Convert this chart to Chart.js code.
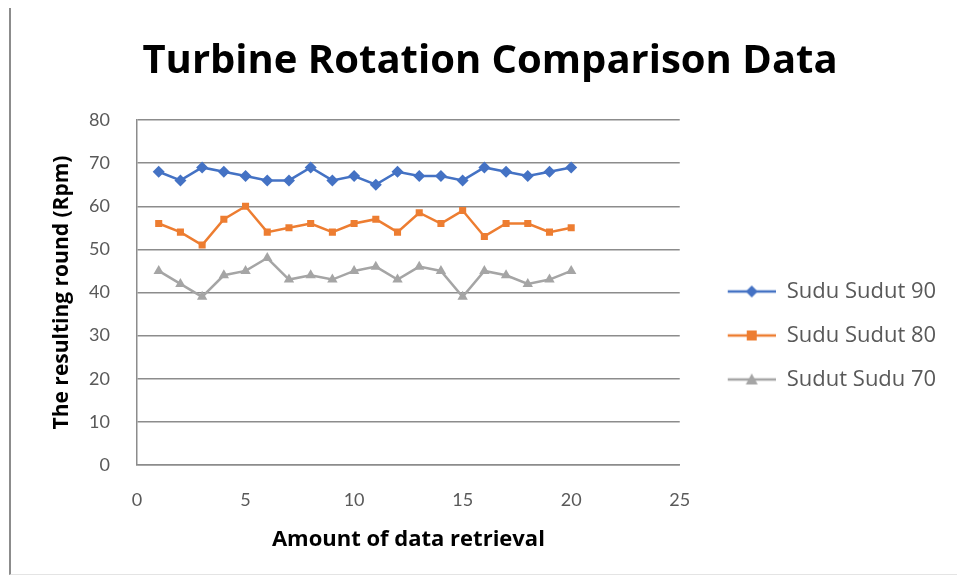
<!DOCTYPE html>
<html>
<head>
<meta charset="utf-8">
<script src="https://cdn.jsdelivr.net/npm/chart.js@4/dist/chart.umd.min.js"></script>
<style>
  html, body { margin: 0; padding: 0; background: #fff; }
  #wrap { position: relative; width: 957px; height: 578px; }
  #frame { position: absolute; left: 9px; top: 8px; width: 948px; height: 566px;
           border-left: 2px solid #8c8c8c; border-bottom: 1px solid #e4e4e4; }
  canvas { position: absolute; left: 0; top: 0; }
</style>
</head>
<body>
<div id="wrap">
  <div id="frame"></div>
  <canvas id="myChart" width="957" height="578"></canvas>
</div>
<script>
// data
const retrieval = [1, 2, 3, 4, 5, 6, 7, 8, 9, 10, 11, 12, 13, 14, 15, 16, 17, 18, 19, 20];
const sudut90 = [68, 66, 69, 68, 67, 66, 66, 69, 66, 67, 65, 68, 67, 67, 66, 69, 68, 67, 68, 69];
const sudut80 = [56, 54, 51, 57, 60, 54, 55, 56, 54, 56, 57, 54, 58.5, 56, 59, 53, 56, 56, 54, 55];
const sudut70 = [45, 42, 39, 44, 45, 48, 43, 44, 43, 45, 46, 43, 46, 45, 39, 45, 44, 42, 43, 45];
const seriesNames = ['Sudu Sudut 90', 'Sudu Sudut 80', 'Sudut Sudu 70'];
const seriesColors = ['#4472C4', '#ED7D31', '#A5A5A5'];
const seriesMarkers = ['rectRot', 'rect', 'triangle'];

const FONT = 'Lato, "Open Sans", sans-serif';
const BOLD = '"Open Sans", Lato, sans-serif';
const TEXT = '#595959';

function pts(values) {
    return retrieval.map((x, i) => ({ x: x, y: values[i] }));
}

// line + marker icons for the legend (excel style), with a blank margin on the left
function legendIcon(color, marker) {
    const c = document.createElement('canvas');
    c.width = 74;
    c.height = 14;
    const g = c.getContext('2d');
    const ox = 26;
    g.strokeStyle = color;
    g.lineWidth = 2.5;
    g.beginPath();
    g.moveTo(ox, 7);
    g.lineTo(ox + 48, 7);
    g.stroke();
    g.fillStyle = color;
    g.beginPath();
    const cx = ox + 24;
    if (marker === 'rectRot') {
        g.moveTo(cx, 1); g.lineTo(cx + 6, 7); g.lineTo(cx, 13); g.lineTo(cx - 6, 7);
    } else if (marker === 'rect') {
        g.rect(cx - 5, 2, 10, 10);
    } else {
        g.moveTo(cx, 1); g.lineTo(cx + 6, 12); g.lineTo(cx - 6, 12);
    }
    g.closePath();
    g.fill();
    return c;
}
const icons = seriesColors.map((c, i) => legendIcon(c, seriesMarkers[i]));

// the right legend is capped at a quarter of the width, so widen it after layout
// (it would be clipped otherwise) and nudge the title a bit to the right
const widenLegend = {
    id: 'widenLegend',
    afterLayout(chart) {
        const lg = chart.legend;
        lg.right = chart.width;
        lg.width = lg.right - lg.left;
        const tb = chart.titleBlock;
        tb.left = 49;
        tb.right = 931;
        tb.width = tb.right - tb.left;
    }
};

const data = {
    datasets: [sudut90, sudut80, sudut70].map((vals, i) => ({
        label: seriesNames[i],
        data: pts(vals),
        borderColor: seriesColors[i],
        backgroundColor: seriesColors[i],
        borderWidth: 2.5,
        pointStyle: seriesMarkers[i],
        pointRadius: seriesMarkers[i] === 'rect' ? 5 : 6,
        pointBorderWidth: 0,
        tension: 0,
    }))
};

const config = {
    type: 'line',
    data: data,
    plugins: [widenLegend],
    options: {
        responsive: false,
        animation: false,
        layout: {
            padding: { top: 38, left: 49, right: 67, bottom: 25 }
        },
        plugins: {
            title: {
                display: true,
                text: 'Turbine Rotation Comparison Data',
                color: '#000',
                font: { family: BOLD, size: 40, weight: 'bold' },
                padding: { top: 0, bottom: 34 }
            },
            legend: {
                position: 'right',
                title: {
                    display: true,
                    text: ' ',
                    font: { size: 10 },
                    padding: 34
                },
                labels: {
                    usePointStyle: true,
                    pointStyleWidth: 74,
                    color: TEXT,
                    font: { family: '"Open Sans", sans-serif', size: 22 },
                    padding: 22,
                    generateLabels: (chart) => {
                        const items = Chart.defaults.plugins.legend.labels.generateLabels(chart);
                        items.forEach((it) => { it.pointStyle = icons[it.datasetIndex]; });
                        return items;
                    }
                }
            },
            tooltip: { enabled: false }
        },
        scales: {
            x: {
                type: 'linear',
                min: 0,
                max: 25,
                ticks: {
                    stepSize: 5,
                    color: TEXT,
                    padding: 16,
                    font: { family: FONT, size: 18 }
                },
                grid: { display: false },
                border: { color: '#8c8c8c', width: 1.5 },
                title: {
                    display: true,
                    text: 'Amount of data retrieval',
                    color: '#000',
                    font: { family: BOLD, size: 22, weight: 'bold' },
                    padding: { top: 0, bottom: 0 }
                }
            },
            y: {
                min: 0,
                max: 80,
                afterFit: (scale) => { scale.width = 88; },
                ticks: {
                    stepSize: 10,
                    color: TEXT,
                    padding: 27,
                    font: { family: FONT, size: 18 }
                },
                grid: { color: '#8c8c8c', lineWidth: 1.5, drawTicks: false },
                border: { color: '#8c8c8c', width: 1.5 },
                title: {
                    display: true,
                    text: 'The resulting round (Rpm)',
                    color: '#000',
                    font: { family: BOLD, size: 21, weight: 'bold' },
                    padding: { top: 0, bottom: 0 }
                }
            }
        }
    }
};

const myChart = new Chart(
    document.getElementById('myChart'),
    config
);
</script>
</body>
</html>
